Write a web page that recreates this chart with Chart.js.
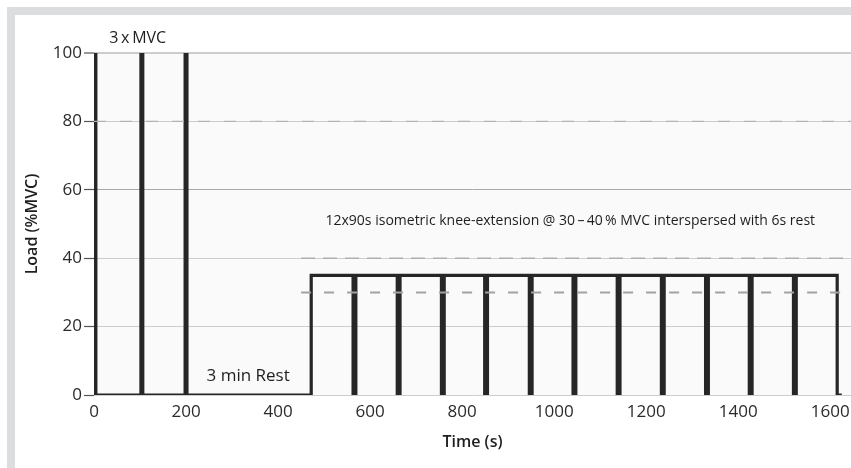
<!DOCTYPE html>
<html>
<head>
<meta charset="utf-8">
<script src="https://cdn.jsdelivr.net/npm/chart.js@4"></script>
<style>
  html, body { margin: 0; padding: 0; background: #ffffff; overflow: hidden; }
  #wrap { position: relative; width: 851px; height: 468px; overflow: hidden; }
  #frame { position: absolute; left: 7px; top: 7px; width: 900px; height: 500px;
           border-left: 8px solid #dcdddf; border-top: 8px solid #dcdddf; background: #ffffff; }
  canvas { position: absolute; left: 0; top: 0; }
</style>
</head>
<body>
<div id="wrap">
  <div id="frame"></div>
  <canvas id="c" width="851" height="468"></canvas>
</div>
<script>
// ---- data ----
const mvcStart  = [0, 102, 198];          // s
const mvcEnd    = [4, 106, 202];          // s
const mvcLoad   = 100;                    // %MVC
const boutStart = [472, 569, 665, 761, 855, 952, 1047, 1143, 1239, 1335, 1430, 1526]; // s
const boutEnd   = [563, 659, 755, 849, 946, 1041, 1137, 1233, 1329, 1424, 1520, 1615]; // s
const boutLoad  = 35;                     // %MVC
const lowerTarget = 30;                   // %MVC
const upperTarget = 40;                   // %MVC
const targetFrom  = 450;                  // s
const refLine80   = 80;                   // %MVC
const xMin = 0, xMax = 1645;
const yMin = 0, yMax = 100;
const xTickStep = 200, yTickStep = 20;
const labelMVC  = '3\u2009x\u2009MVC';
const labelRest = '3 min Rest';
const labelBouts = '12x90s isometric knee-extension @ 30\u2009\u2013\u200940\u2009% MVC interspersed with 6s rest';
const xTitle = 'Time (s)';
const yTitle = 'Load (%MVC)';

// ---- build the load profile from the arrays ----
const profile = [];
mvcStart.forEach((s, i) => {
  profile.push({x: s, y: 0}, {x: s, y: mvcLoad}, {x: mvcEnd[i], y: mvcLoad}, {x: mvcEnd[i], y: 0});
});
boutStart.forEach((s, i) => {
  profile.push({x: s, y: 0}, {x: s, y: boutLoad}, {x: boutEnd[i], y: boutLoad}, {x: boutEnd[i], y: 0});
});
profile.push({x: boutEnd[boutEnd.length - 1] + 10, y: 0});

const FONT = '"Open Sans", "Noto Sans", sans-serif';

const bgPlugin = {
  id: 'bg',
  beforeDraw(chart) {
    const a = chart.chartArea, ctx = chart.ctx;
    ctx.save();
    ctx.fillStyle = '#fafafa';
    ctx.fillRect(a.left, a.top, a.right - a.left, a.bottom - a.top);
    ctx.restore();
  }
};

const textPlugin = {
  id: 'texts',
  afterDatasetsDraw(chart) {
    const ctx = chart.ctx, xs = chart.scales.x, ys = chart.scales.y;
    ctx.save();
    ctx.fillStyle = '#1e1e1e';
    ctx.textAlign = 'center';
    ctx.textBaseline = 'middle';
    ctx.font = '16px ' + FONT;
    ctx.fillText(labelMVC, xs.getPixelForValue(95), chart.chartArea.top - 15);
    ctx.font = '17px ' + FONT;
    ctx.fillText(labelRest, xs.getPixelForValue(335), ys.getPixelForValue(5.6));
    ctx.font = '14px ' + FONT;
    ctx.fillText(labelBouts, xs.getPixelForValue(1035), ys.getPixelForValue(50.9));
    ctx.restore();
  }
};

new Chart(document.getElementById('c'), {
  type: 'line',
  data: {
    datasets: [
      { data: [{x: xMin, y: refLine80}, {x: xMax, y: refLine80}], borderColor: '#b2b2b2', borderWidth: 1.2,
        borderDash: [12, 14], pointRadius: 0 },
      { data: [{x: targetFrom, y: upperTarget}, {x: xMax, y: upperTarget}], borderColor: '#b0b0b0', borderWidth: 1.6,
        borderDash: [14, 8], pointRadius: 0 },
      { data: [{x: targetFrom, y: lowerTarget}, {x: xMax, y: lowerTarget}], borderColor: '#a2a2a2', borderWidth: 2,
        borderDash: [10, 13], pointRadius: 0 },
      { data: profile, borderColor: '#262626', borderWidth: 3.2, pointRadius: 0,
        borderJoinStyle: 'miter', tension: 0 }
    ]
  },
  options: {
    responsive: false,
    animation: false,
    devicePixelRatio: 1,
    layout: { padding: { top: 53, right: 0, bottom: 0, left: 0 } },
    plugins: { legend: { display: false }, tooltip: { enabled: false } },
    scales: {
      x: {
        type: 'linear', min: xMin, max: xMax,
        afterFit(s) { s.height = 73; },
        border: { display: false },
        grid: { display: false, drawTicks: false },
        ticks: { stepSize: xTickStep, includeBounds: false, padding: 0, color: '#2a2a2a',
                 font: { family: FONT, size: 17, lineHeight: 2 }, maxRotation: 0,
                 callback: (v) => String(v) },
        title: { display: true, text: xTitle, color: '#1e1e1e', padding: { top: 0, bottom: 16 },
                 font: { family: FONT, size: 16, weight: '600' } }
      },
      y: {
        type: 'linear', min: yMin, max: yMax,
        afterFit(s) { s.width = 94; },
        border: { display: false },
        grid: {
          color: (c) => c.tick && c.tick.value === 60 ? '#a8a8a8' : '#cdcdcd',
          lineWidth: (c) => c.tick && c.tick.value === 100 ? 2 : 1,
          tickLength: 10, tickColor: '#555555', tickWidth: 1.2
        },
        ticks: { stepSize: yTickStep, padding: 2, color: '#2a2a2a', font: { family: FONT, size: 17 },
                 callback: (v) => String(v) },
        title: { display: true, text: yTitle, color: '#1e1e1e', padding: { top: 23, bottom: 0 },
                 font: { family: FONT, size: 16, weight: '600' } }
      }
    }
  },
  plugins: [bgPlugin, textPlugin]
});
</script>
</body>
</html>
